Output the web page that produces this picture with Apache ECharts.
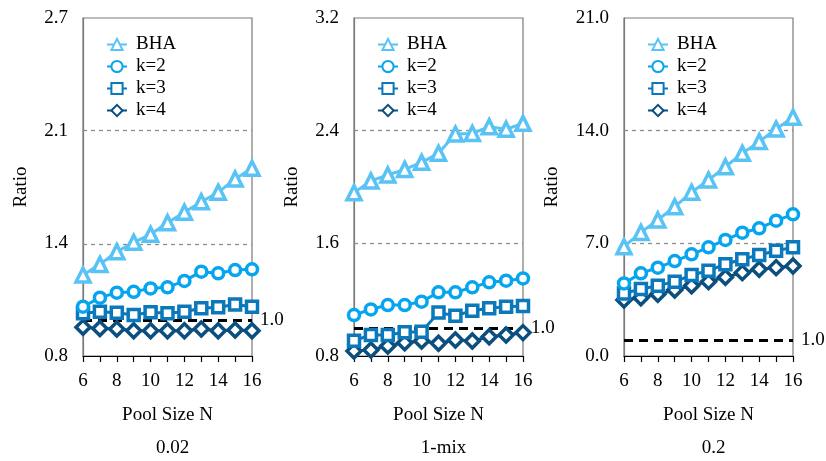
<!DOCTYPE html>
<html>
<head>
<meta charset="utf-8">
<script src="https://cdn.jsdelivr.net/npm/echarts@6/dist/echarts.min.js"></script>
<style>html,body{margin:0;padding:0;background:#fff}#c{width:826px;height:461px}</style>
</head>
<body>
<div id="c"></div>
<script>
// ---- data ----
const poolSize = [6, 7, 8, 9, 10, 11, 12, 13, 14, 15, 16];
const seriesNames = ['BHA', 'k=2', 'k=3', 'k=4'];
const panelTitles = ['0.02', '1-mix', '0.2'];
const yMins = [0.8, 0.8, 0];
const yMaxs = [2.7, 3.2, 21];
const yTicks002 = [0.8, 1.4333, 2.0667, 2.7];
const yTicksMix = [0.8, 1.6, 2.4, 3.2];
const yTicks02 = [0, 7, 14, 21];
const refValue = 1.0;

const bha002 = [1.255, 1.315, 1.386, 1.439, 1.484, 1.549, 1.608, 1.667, 1.72, 1.795, 1.855];
const k2_002 = [1.077, 1.128, 1.156, 1.161, 1.18, 1.186, 1.222, 1.274, 1.265, 1.283, 1.287];
const k3_002 = [1.04, 1.049, 1.043, 1.03, 1.046, 1.04, 1.049, 1.068, 1.074, 1.09, 1.077];
const k4_002 = [0.961, 0.955, 0.952, 0.942, 0.942, 0.942, 0.942, 0.952, 0.942, 0.946, 0.942];

const bhaMix = [1.96, 2.043, 2.085, 2.125, 2.175, 2.239, 2.376, 2.38, 2.428, 2.41, 2.452];
const k2_mix = [1.091, 1.131, 1.162, 1.162, 1.186, 1.252, 1.252, 1.288, 1.323, 1.335, 1.351];
const k3_mix = [0.909, 0.949, 0.949, 0.968, 0.973, 1.108, 1.086, 1.122, 1.139, 1.15, 1.155];
const k4_mix = [0.836, 0.843, 0.871, 0.894, 0.907, 0.89, 0.914, 0.907, 0.937, 0.949, 0.966];

const bha02 = [6.79, 7.68, 8.45, 9.28, 10.17, 10.93, 11.76, 12.59, 13.32, 14.1, 14.83];
const k2_02 = [4.51, 5.14, 5.49, 5.9, 6.32, 6.75, 7.21, 7.66, 7.93, 8.41, 8.8];
const k3_02 = [3.89, 4.16, 4.37, 4.62, 5.03, 5.3, 5.7, 6.01, 6.28, 6.54, 6.75];
const k4_02 = [3.48, 3.62, 3.83, 4.1, 4.37, 4.62, 4.89, 5.18, 5.39, 5.49, 5.59];

// ---- build ----
const panelData = [[bha002, k2_002, k3_002, k4_002], [bhaMix, k2_mix, k3_mix, k4_mix], [bha02, k2_02, k3_02, k4_02]];
const panelTicks = [yTicks002, yTicksMix, yTicks02];
const colors = ['#5ac3f5', '#05a5ef', '#0a78bb', '#0b4f7f'];
const symbols = ['triangle', 'circle', 'rect', 'diamond'];
const symbolSizes = [14, 11, 11, 14];
const FONT = '"Liberation Serif", "Times New Roman", serif';
const FS = 19;
const gridLefts = [83, 354, 624];
const gridW = 169;

const grids = [], xAxes = [], yAxes = [], series = [], legends = [], titles = [];
for (let p = 0; p < 3; p++) {
  grids.push({left: gridLefts[p], width: gridW, top: 18, bottom: 105, show: true,
    borderColor: '#7a7a7a', borderWidth: 1.2, backgroundColor: 'transparent'});
  xAxes.push({type: 'value', gridIndex: p, min: 6, max: 16, interval: 1,
    name: 'Pool Size N', nameLocation: 'middle', nameGap: 50,
    nameTextStyle: {fontFamily: FONT, fontSize: FS, color: '#000'},
    axisLine: {show: true, lineStyle: {color: '#000', width: 1.2}},
    axisTick: {show: true, length: 6, lineStyle: {color: '#000', width: 1.2}},
    axisLabel: {fontFamily: FONT, fontSize: FS, color: '#000', margin: 16,
      formatter: v => (v % 2 === 0 ? String(v) : '')},
    splitLine: {show: false}});
  yAxes.push({type: 'value', gridIndex: p, min: yMins[p], max: yMaxs[p],
    name: 'Ratio', nameLocation: 'middle', nameGap: p === 2 ? 62 : 52,
    nameTextStyle: {fontFamily: FONT, fontSize: FS, color: '#000'},
    axisLine: {show: true, lineStyle: {color: '#7a7a7a', width: 1.2}},
    axisTick: {show: false},
    axisLabel: {fontFamily: FONT, fontSize: FS, color: '#000', margin: 15,
      customValues: panelTicks[p], formatter: v => Number(v).toFixed(1)},
    splitLine: {show: false}});
  const names = [];
  for (let s = 0; s < 4; s++) {
    series.push({type: 'line', name: seriesNames[s], xAxisIndex: p, yAxisIndex: p,
      data: poolSize.map((x, i) => [x, panelData[p][s][i]]),
      symbol: symbols[s], symbolSize: symbolSizes[s], showAllSymbol: true, clip: false,
      lineStyle: {color: colors[s], width: 3},
      itemStyle: {color: '#fff', borderColor: colors[s], borderWidth: 3.5},
      z: 10 - s, animation: false});
    names.push(seriesNames[s]);
  }
  const inner = panelTicks[p].slice(1, -1);
  series.push({type: 'line', xAxisIndex: p, yAxisIndex: p, data: [], silent: true, z: 1,
    markLine: {symbol: 'none', silent: true, animation: false,
      data: inner.map(v => ({yAxis: v, label: {show: false},
        lineStyle: {color: '#8c8c8c', type: [4, 4], width: 1.3}}))
        .concat([{yAxis: refValue,
          label: {show: true, position: 'end', formatter: refValue.toFixed(1), distance: 8,
            fontFamily: FONT, fontSize: FS, color: '#000'},
          lineStyle: {color: '#000', type: [9, 6], width: 3}}])}});
  legends.push({left: gridLefts[p] + 18, top: 30, orient: 'vertical', data: names,
    itemWidth: 20, itemHeight: 14, itemGap: 3, selectedMode: false,
    textStyle: {fontFamily: FONT, fontSize: FS, color: '#000', padding: [0, 0, 0, 4]}});
  titles.push({text: panelTitles[p], left: gridLefts[p] + gridW / 2, top: 434, textAlign: 'center',
    textStyle: {fontFamily: FONT, fontSize: FS, fontWeight: 'normal', color: '#000'}});
}

const chart = echarts.init(document.getElementById('c'), null, {renderer: 'canvas'});
chart.setOption({animation: false, backgroundColor: '#fff', grid: grids, xAxis: xAxes, yAxis: yAxes,
  series: series, legend: legends, title: titles});
</script>
</body>
</html>
